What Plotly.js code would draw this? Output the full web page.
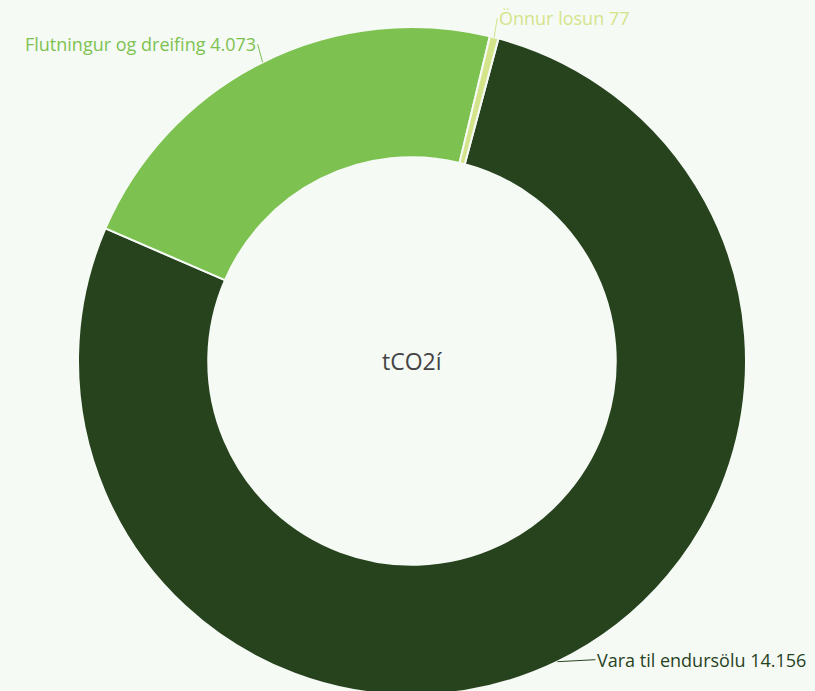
<!DOCTYPE html>
<html>
<head>
<meta charset="utf-8">
<script src="https://cdn.plot.ly/plotly-3.0.1.min.js"></script>
<style>
html,body{margin:0;padding:0;background:#f6faf5;overflow:hidden;}
#chart{width:815px;height:740px;}
</style>
</head>
<body>
<div id="chart"></div>
<script>
const labels = ["Vara til endursölu", "Flutningur og dreifing", "Önnur losun"];
const values = [14156, 4073, 77];
const colors = ["#27431e", "#7dc250", "#d4e48a"];
const valueText = ["14.156", "4.073", "77"];
const centerLabel = "tCO2í";

const rotation = 15;
const labelOffsets = [ {ax: 38, ay: -2, xanchor: "left"}, {ax: -5, ay: -18, xanchor: "right"}, {ax: 3, ay: -19, xanchor: "left"} ];

const total = values.reduce((a, b) => a + b, 0);
let cum = 0;
const labelAnnots = values.map((v, i) => {
  const mid = rotation + (cum + v / 2) / total * 360;
  cum += v;
  const th = mid * Math.PI / 180;
  return {
    x: 0.5 + 0.5 * Math.sin(th), y: 0.5 + 0.5 * Math.cos(th),
    xref: "paper", yref: "paper",
    text: labels[i] + " " + valueText[i],
    showarrow: true, arrowhead: 0, arrowwidth: 1, arrowcolor: colors[i], standoff: 0,
    ax: labelOffsets[i].ax, ay: labelOffsets[i].ay,
    xanchor: labelOffsets[i].xanchor, yanchor: "middle",
    font: {family: "Open Sans, sans-serif", size: 18, color: colors[i]}
  };
});

const trace = {
  type: "pie",
  labels: labels,
  values: values,
  hole: 0.61,
  sort: false,
  direction: "clockwise",
  rotation: rotation,
  marker: {colors: colors, line: {color: "#f6faf5", width: 2}},
  textinfo: "none",
  showlegend: false,
  automargin: false,
  hoverinfo: "label+value"
};

const layout = {
  width: 815,
  height: 740,
  margin: {l: 78, r: 69, t: 27, b: 45},
  paper_bgcolor: "#f6faf5",
  plot_bgcolor: "#f6faf5",
  separators: ",.",
  showlegend: false,
  annotations: [{
    text: centerLabel, x: 0.5, y: 0.5, xref: "paper", yref: "paper",
    showarrow: false, font: {family: "Open Sans, sans-serif", size: 23, color: "#444444"}
  }].concat(labelAnnots)
};

Plotly.newPlot("chart", [trace], layout, {displayModeBar: false, staticPlot: true});
</script>
</body>
</html>
